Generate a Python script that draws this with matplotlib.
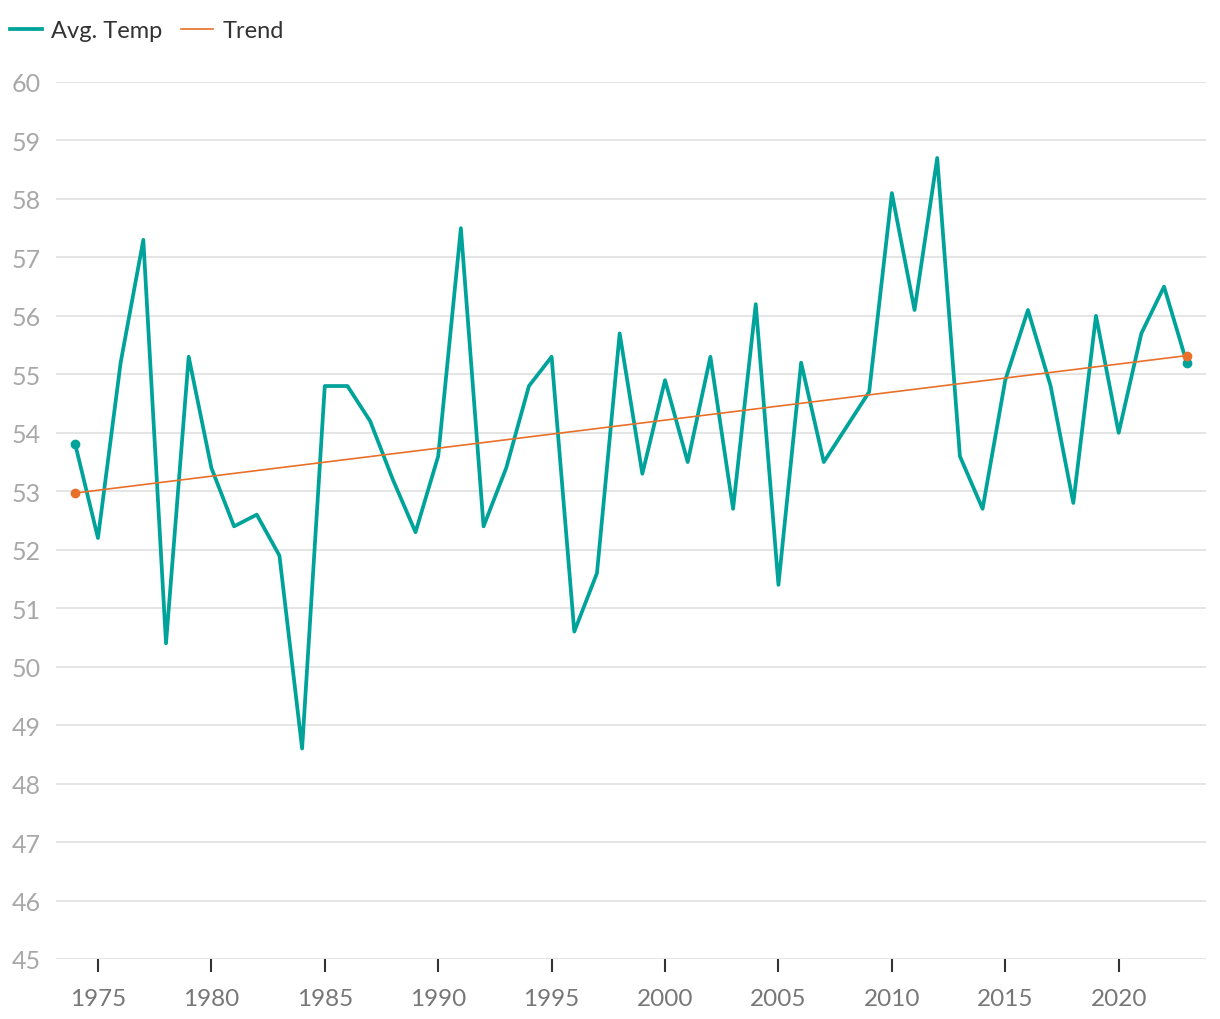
import matplotlib
matplotlib.use("Agg")
import matplotlib.pyplot as plt

years = list(range(1974, 2024))
avg_temp = [53.8, 52.2, 55.2, 57.3, 50.4, 55.3, 53.4, 52.4, 52.6, 51.9,
            48.6, 54.8, 54.8, 54.2, 53.2, 52.3, 53.6, 57.5, 52.4, 53.4,
            54.8, 55.3, 50.6, 51.6, 55.7, 53.3, 54.9, 53.5, 55.3, 52.7,
            56.2, 51.4, 55.2, 53.5, 54.1, 54.7, 58.1, 56.1, 58.7, 53.6,
            52.7, 54.9, 56.1, 54.8, 52.8, 56.0, 54.0, 55.7, 56.5, 55.2]
trend_years = [1974, 2023]
trend_vals = [52.97, 55.32]
xticks = list(range(1975, 2021, 5))
yticks = list(range(45, 61))

TEAL = "#00a39a"
ORANGE = "#e8702a"

plt.rcParams["font.family"] = ["Lato", "DejaVu Sans"]

fig = plt.figure(figsize=(12.2, 10.2), dpi=100)
ax = fig.add_axes([56 / 1220, 1 - 960 / 1020, 1150 / 1220, 877 / 1020])

ax.plot(years, avg_temp, color=TEAL, lw=2.7, marker="o", ms=6,
        markevery=[0, len(years) - 1], label="Avg. Temp", zorder=3)
ax.plot(trend_years, trend_vals, color=ORANGE, lw=1.2, marker="o", ms=6,
        label="Trend", zorder=4)

ax.set_xlim(1973.15, 2023.85)
ax.set_ylim(45, 60)
ax.set_xticks(xticks)
ax.set_yticks(yticks)
ax.grid(axis="y", color="#e3e3e3", lw=1.3)
ax.set_axisbelow(True)
for s in ax.spines.values():
    s.set_visible(False)

ax.tick_params(axis="y", length=0, labelsize=18, labelcolor="#a8a8a8", pad=11)
ax.tick_params(axis="x", length=9, width=1.5, color="#333333", labelsize=17.5,
               labelcolor="#777777", pad=12)

fig.legend(loc="upper left", bbox_to_anchor=(10 / 1220, 1 - 21 / 1020), ncol=2,
           frameon=False, fontsize=17, labelcolor="#333333", handlelength=1.35,
           handletextpad=0.4, columnspacing=0.8, borderpad=0, borderaxespad=0)
for ln in fig.legends[0].get_lines():
    ln.set_marker("")

fig.savefig("out.png", dpi=100, facecolor="white")
